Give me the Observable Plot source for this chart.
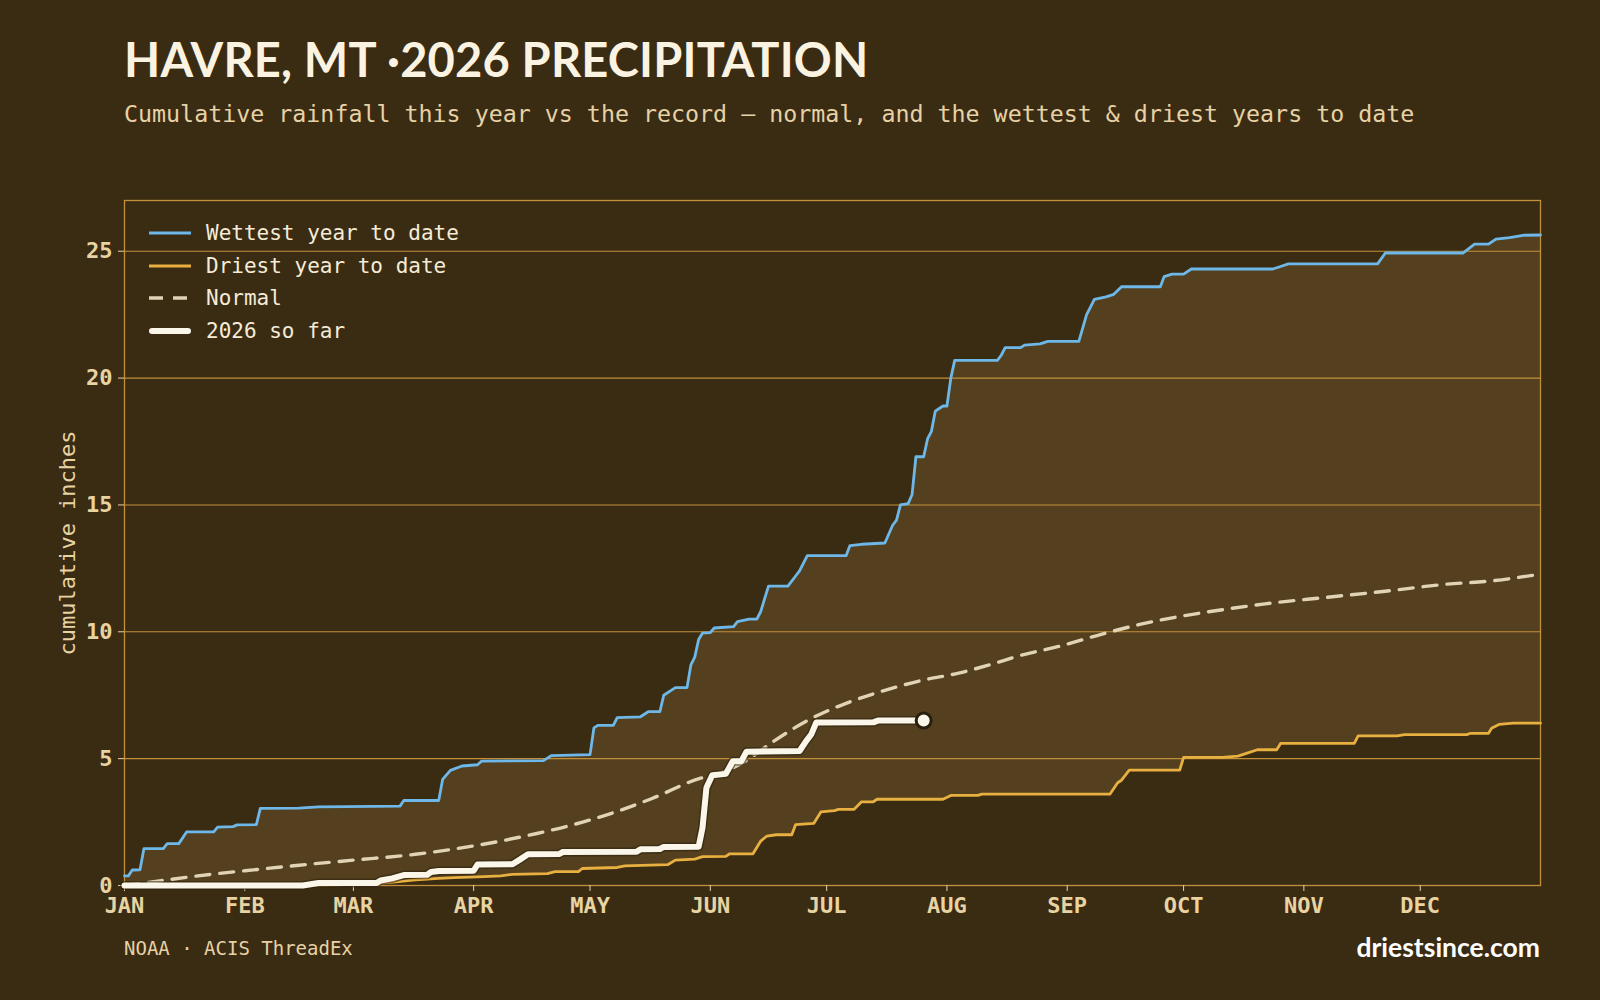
<!DOCTYPE html>
<html>
<head>
<meta charset="utf-8">
<script src="https://cdn.jsdelivr.net/npm/d3@7"></script>
<script src="https://cdn.jsdelivr.net/npm/@observablehq/plot@0.6"></script>
<style>
  html, body { margin: 0; padding: 0; background: #3a2b13; }
  #page { position: relative; width: 1600px; height: 1000px; background: #3a2b13; overflow: hidden; }
  #title { position: absolute; left: 124px; top: 31px; font-family: Lato, "Noto Sans", sans-serif; font-weight: 700; font-size: 47px; line-height: 56px; color: #fbf3e2; white-space: nowrap; letter-spacing: 0.2px; }
  #subtitle { position: absolute; left: 124px; top: 99px; font-family: "DejaVu Sans Mono", monospace; font-size: 23.3px; line-height: 30px; color: #e6d2a5; white-space: nowrap; }
  #chart { position: absolute; left: 0; top: 160px; }
  #legend { position: absolute; left: 149px; top: 217px; font-family: "DejaVu Sans Mono", monospace; font-size: 21px; color: #f5ecd8; }
  .row { display: flex; align-items: center; height: 32.6px; }
  .row svg { margin-right: 15px; }
  #source { position: absolute; left: 124px; top: 936px; font-family: "DejaVu Sans Mono", monospace; font-size: 19px; line-height: 24px; color: #e6d2a5; }
  #brand { position: absolute; right: 60px; top: 932px; font-family: Lato, "Noto Sans", sans-serif; font-weight: 700; font-size: 26.5px; line-height: 30px; color: #ffffff; }
</style>
</head>
<body>
<div id="page">
  <div id="title">HAVRE, MT ·2026 PRECIPITATION</div>
  <div id="subtitle">Cumulative rainfall this year vs the record — normal, and the wettest &amp; driest years to date</div>
  <div id="chart"></div>
  <div id="legend"></div>
  <div id="source">NOAA · ACIS ThreadEx</div>
  <div id="brand">driestsince.com</div>
</div>
<script>
// ---- data (day of year offset from Jan 1, cumulative inches) ----
const wettestDay = [0,1,2,4,5,10,11,14,16,23,24,28,29,34,35,45,50,71,72,81,82,84,87,91,92,108,110,120,121,122,126,127,133,135,138,139,141,142,145,146,147,148,149,151,152,157,158,161,163,164,166,171,173,174,176,186,187,190,196,198,199,200,202,203,204,206,207,208,209,210,211,212,213,214,225,226,227,231,232,236,238,246,248,249,250,253,255,257,267,268,270,273,275,296,298,300,323,325,345,348,351.6,353.5,357,360.5,365];
const wettestIn  = [0.38,0.38,0.61,0.62,1.45,1.45,1.65,1.65,2.11,2.11,2.30,2.32,2.39,2.40,3.04,3.05,3.10,3.13,3.35,3.35,4.18,4.54,4.71,4.76,4.90,4.92,5.12,5.16,6.21,6.31,6.31,6.62,6.65,6.85,6.85,7.5,7.7,7.8,7.8,8.7,9.0,9.7,9.95,9.97,10.15,10.2,10.4,10.5,10.5,10.8,11.8,11.8,12.2,12.4,13.0,13.0,13.4,13.45,13.5,14.2,14.4,15.0,15.05,15.4,16.9,16.9,17.6,17.9,18.7,18.8,18.9,18.9,20.0,20.7,20.7,20.9,21.2,21.2,21.3,21.35,21.45,21.45,22.5,22.8,23.1,23.2,23.3,23.6,23.6,24.0,24.1,24.1,24.3,24.3,24.4,24.5,24.5,24.93,24.93,25.28,25.28,25.48,25.54,25.63,25.64];

const driestDay = [0,40,55,65,70,75,81,85,91,97,100,109,111,117,118,127,129,140,142,147,149,155,156,162,164,165.6,168,172,173,177.7,179.5,183,184,188,190,193,194,211,213,220,221,254,256,257,259,272,273,283,287,289,292,297,298,317,318,328,330,346,347,351.6,352.4,354.3,358,365];
const driestIn  = [0,0,0.03,0.08,0.14,0.22,0.28,0.31,0.34,0.38,0.44,0.47,0.55,0.55,0.67,0.71,0.77,0.82,1.0,1.04,1.14,1.15,1.25,1.25,1.75,1.95,2.0,2.0,2.4,2.45,2.9,2.95,3.0,3.0,3.3,3.3,3.4,3.4,3.55,3.55,3.6,3.6,4.05,4.15,4.55,4.55,5.05,5.05,5.1,5.2,5.35,5.35,5.6,5.6,5.9,5.9,5.95,5.95,6.0,6.0,6.2,6.35,6.4,6.4];

const normalDay = [0,4,24,31,45,59,75,90,106,116,126,136,149,152,160,167,176,181,186,194,206,215,223,231,241,252,262,273,283,294,310,325,341,352,364];
const normalIn  = [0,0.08,0.47,0.58,0.80,1.0,1.23,1.56,2.04,2.41,2.87,3.43,4.25,4.35,4.9,5.65,6.5,6.87,7.18,7.6,8.1,8.37,8.7,9.07,9.43,9.91,10.3,10.63,10.87,11.1,11.36,11.6,11.88,12.0,12.25];

const thisYearDay = [0,46,50,65,66,69,72,78,79,81,90,91,100,102,104,112,113,132,133,138,139,148,149,150,151.5,155,156.8,159,160.3,174,175.7,177,178.3,193,194.2,206];
const thisYearIn  = [0,0,0.1,0.1,0.2,0.28,0.41,0.42,0.53,0.57,0.58,0.83,0.84,1.03,1.23,1.24,1.32,1.33,1.43,1.44,1.52,1.53,2.28,3.85,4.35,4.4,4.9,4.9,5.27,5.3,5.69,5.95,6.42,6.43,6.5,6.5];

const yTicks = [0, 5, 10, 15, 20, 25];
const legendLabels = ["Wettest year to date", "Driest year to date", "Normal", "2026 so far"];

// ---- styling ----
const BG = "#3a2b13", BAND = "#54401e", GRID = "#c2903b", TICKTXT = "#e8d3a2";
const BLUE = "#6db8e8", GOLD = "#e8b040", NORMAL = "#e0d3b6", WHITE = "#fbf6ea";

const t0 = Date.UTC(2026, 0, 1);
const toDate = d => new Date(t0 + d * 864e5);
const rows = (days, vals) => days.map((d, i) => ({date: toDate(d), v: vals[i]}));
const wet = rows(wettestDay, wettestIn);
const dry = rows(driestDay, driestIn);
const normal = rows(normalDay, normalIn);
const now = rows(thisYearDay, thisYearIn);
const months = d3.utcMonth.range(new Date(t0), new Date(Date.UTC(2027, 0, 1)));

const chart = Plot.plot({
  width: 1600,
  height: 775,
  marginLeft: 124,
  marginRight: 60,
  marginTop: 40,
  marginBottom: 50,
  style: {background: "transparent", fontFamily: "DejaVu Sans Mono, monospace", overflow: "visible"},
  x: {type: "utc", domain: [new Date(t0), new Date(Date.UTC(2027, 0, 1))]},
  y: {domain: [0, 27]},
  marks: [
    Plot.areaY(wet, {x: "date", y: "v", fill: BAND}),
    Plot.areaY(dry, {x: "date", y: "v", fill: BG}),
    Plot.gridY([5, 10, 15, 20, 25], {stroke: GRID, strokeOpacity: 1, strokeWidth: 1.1}),
    Plot.frame({stroke: GRID, strokeWidth: 1.3}),
    Plot.axisX(months, {tickFormat: d => d3.utcFormat("%b")(d).toUpperCase(), tickSize: 6, tickPadding: 6, fontSize: 22, fontWeight: "bold", fill: TICKTXT, stroke: TICKTXT, label: null}),
    Plot.axisY(yTicks, {tickSize: 6, tickPadding: 6, fontSize: 22, fontWeight: "bold", fill: TICKTXT, stroke: TICKTXT, label: null}),
    Plot.text(["cumulative inches"], {frameAnchor: "left", textAnchor: "middle", dx: -57, rotate: -90, fontSize: 22, fill: TICKTXT, text: d => d}),
    Plot.line(normal, {x: "date", y: "v", stroke: NORMAL, strokeWidth: 3.4, strokeDasharray: "14,10", curve: "monotone-x"}),
    Plot.line(dry, {x: "date", y: "v", stroke: GOLD, strokeWidth: 2.8}),
    Plot.line(wet, {x: "date", y: "v", stroke: BLUE, strokeWidth: 2.8}),
    Plot.line(now, {x: "date", y: "v", stroke: "#2a1f0d", strokeWidth: 9, strokeLinejoin: "round", strokeLinecap: "round", strokeOpacity: 0.55}),
    Plot.line(now, {x: "date", y: "v", stroke: WHITE, strokeWidth: 6, strokeLinejoin: "round", strokeLinecap: "round"}),
    Plot.dot(now.slice(-1), {x: "date", y: "v", r: 7.5, fill: WHITE, stroke: "#2a1f0d", strokeWidth: 3})
  ]
});
document.getElementById("chart").append(chart);

// ---- legend ----
const swatches = [
  {stroke: BLUE, width: 2.8, dash: null, cap: "butt"},
  {stroke: GOLD, width: 2.8, dash: null, cap: "butt"},
  {stroke: NORMAL, width: 3.4, dash: "14,10", cap: "butt"},
  {stroke: WHITE, width: 6, dash: null, cap: "round"}
];
const legend = d3.select("#legend");
legendLabels.forEach((lab, i) => {
  const s = swatches[i];
  const row = legend.append("div").attr("class", "row");
  const svg = row.append("svg").attr("width", 42).attr("height", 12);
  svg.append("line").attr("x1", s.cap === "round" ? 3 : 0).attr("x2", s.cap === "round" ? 39 : 42).attr("y1", 6).attr("y2", 6)
    .attr("stroke", s.stroke).attr("stroke-width", s.width).attr("stroke-dasharray", s.dash).attr("stroke-linecap", s.cap);
  row.append("span").text(lab);
});
</script>
</body>
</html>
